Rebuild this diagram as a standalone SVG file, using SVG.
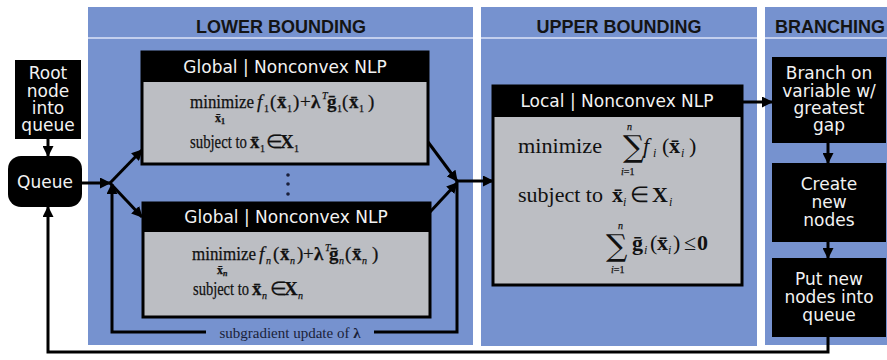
<svg xmlns="http://www.w3.org/2000/svg" width="887" height="360" viewBox="0 0 887 360">
  <style>
    .panel { fill: #7692cf; }
    .rule { stroke: #c3cfee; stroke-width: 2; }
    .head { font-family: "Liberation Sans", Arial, sans-serif; font-weight: bold; font-size: 18px; fill: #141414; }
    .blk { fill: #000; }
    .body { fill: #bcbec3; stroke: #000; stroke-width: 3; }
    .wt { font-family: "DejaVu Sans", Verdana, sans-serif; font-size: 17px; fill: #f2f2f2; text-anchor: middle; }
    .m { font-family: "Liberation Serif", "Times New Roman", serif; font-size: 19px; fill: #111; stroke: #111; stroke-width: 0.25; }
    .M { font-family: "Liberation Serif", "Times New Roman", serif; font-size: 22px; fill: #111; }
    .b { font-weight: bold; }
    .i { font-style: italic; }
    .s { font-size: 10px; }
    .S { font-size: 12px; }
    .sig { font-family: "DejaVu Serif", "Liberation Serif", serif; font-size: 30px; fill: #111; }
    .ar { fill: none; stroke: #000; stroke-width: 3; marker-end: url(#tip); }
    .lbl { font-family: "Liberation Serif", "Times New Roman", serif; font-size: 15px; fill: #1a1f3a; text-anchor: middle; }
  </style>
  <defs>
    <marker id="tip" markerUnits="userSpaceOnUse" markerWidth="11" markerHeight="11" refX="10" refY="5.5" orient="auto">
      <path d="M0,0 L11,5.5 L0,11 z" fill="#000"/>
    </marker>
  </defs>

  <rect width="887" height="360" fill="#fff"/>

  <!-- stage panels -->
  <g id="panel-lower">
    <rect class="panel" x="88" y="7" width="385" height="338"/>
    <line class="rule" x1="88" y1="38" x2="473" y2="38"/>
    <text class="head" x="281" y="33" text-anchor="middle">LOWER BOUNDING</text>
  </g>
  <g id="panel-upper">
    <rect class="panel" x="481" y="7" width="276" height="339"/>
    <line class="rule" x1="481" y1="38" x2="757" y2="38"/>
    <text class="head" x="619" y="33" text-anchor="middle">UPPER BOUNDING</text>
  </g>
  <g id="panel-branching">
    <rect class="panel" x="765" y="7" width="122" height="338"/>
    <line class="rule" x1="765" y1="38" x2="887" y2="38"/>
    <text class="head" x="775" y="33">BRANCHING</text>
  </g>

  <!-- connectors -->
  <g id="connectors">
    <line class="ar" x1="48" y1="138" x2="48" y2="156"/>
    <line class="ar" x1="81" y1="183" x2="110" y2="183"/>
    <line class="ar" x1="110" y1="183" x2="142" y2="150"/>
    <line class="ar" x1="110" y1="183" x2="142" y2="217"/>
    <line class="ar" x1="428" y1="142" x2="457" y2="181"/>
    <line class="ar" x1="430" y1="212" x2="457" y2="183"/>
    <line class="ar" x1="457" y1="181" x2="493" y2="181"/>
    <path class="ar" d="M457,181 V332 H112 V184"/>
    <rect class="panel" x="206" y="324" width="168" height="18"/>
    <text class="lbl" x="290" y="338">subgradient update of <tspan class="b">λ</tspan></text>
    <line class="ar" x1="742" y1="102" x2="772" y2="102"/>
    <line class="ar" x1="828" y1="143" x2="828" y2="163"/>
    <line class="ar" x1="828" y1="242" x2="828" y2="258"/>
    <path class="ar" d="M828,337 V352 H48 V207"/>
  </g>

  <!-- start node -->
  <g id="root">
    <rect class="blk" x="15" y="60" width="66" height="79"/>
    <text class="wt" x="48" y="79">Root</text>
    <text class="wt" x="48" y="97">node</text>
    <text class="wt" x="48" y="114">into</text>
    <text class="wt" x="48" y="131">queue</text>
  </g>

  <g id="queue">
    <rect class="blk" x="8" y="156" width="74" height="51" rx="13"/>
    <text class="wt" x="45" y="188">Queue</text>
  </g>

  <!-- first subproblem -->
  <g id="sub-1">
    <rect class="body" x="142" y="52" width="286" height="112"/>
    <rect class="blk" x="142" y="51" width="286" height="31"/>
    <text class="wt" x="285" y="73">Global | Nonconvex NLP</text>
    <text class="m" y="108"><tspan x="190" textLength="64" lengthAdjust="spacingAndGlyphs">minimize</tspan><tspan class="i" x="257">f</tspan><tspan class="s" x="264" y="112">1</tspan><tspan x="270" y="108">(</tspan><tspan class="b" x="277">x̄</tspan><tspan class="s" x="287" y="112">1</tspan><tspan x="293" y="108">)</tspan><tspan x="300">+</tspan><tspan class="b" x="311">λ</tspan><tspan class="s i" x="322" y="99">T</tspan><tspan class="b" x="327" y="108">ḡ</tspan><tspan class="s" x="337" y="112">1</tspan><tspan x="342" y="108">(</tspan><tspan class="b" x="349">x̄</tspan><tspan class="s" x="359" y="112">1</tspan><tspan x="368" y="108">)</tspan></text>
    <text class="m b" style="font-size:12px" x="215" y="122">x̄<tspan style="font-size:8px" dy="2">1</tspan></text>
    <text class="m" y="148"><tspan x="190" textLength="57" lengthAdjust="spacingAndGlyphs">subject to</tspan><tspan class="b" x="250">x̄</tspan><tspan class="s" x="260" y="152">1</tspan><tspan x="266" y="148">∈</tspan><tspan class="b" x="280">X</tspan><tspan class="s" x="294" y="152">1</tspan></text>
  </g>

  <g id="ellipsis">
    <circle cx="288" cy="175" r="1.8" fill="#1a1f3a"/>
    <circle cx="288" cy="184" r="1.8" fill="#1a1f3a"/>
    <circle cx="288" cy="194" r="1.8" fill="#1a1f3a"/>
  </g>

  <!-- n-th subproblem -->
  <g id="sub-n">
    <rect class="body" x="143" y="203" width="287" height="114"/>
    <rect class="blk" x="143" y="202" width="287" height="30"/>
    <text class="wt" x="286" y="223">Global | Nonconvex NLP</text>
    <text class="m" y="260"><tspan x="192" textLength="64" lengthAdjust="spacingAndGlyphs">minimize</tspan><tspan class="i" x="259">f</tspan><tspan class="s i" x="266" y="264">n</tspan><tspan x="273" y="260">(</tspan><tspan class="b" x="280">x̄</tspan><tspan class="s i" x="290" y="264">n</tspan><tspan x="297" y="260">)</tspan><tspan x="303">+</tspan><tspan class="b" x="314">λ</tspan><tspan class="s i" x="325" y="251">T</tspan><tspan class="b" x="329" y="260">ḡ</tspan><tspan class="s i" x="339" y="264">n</tspan><tspan x="345" y="260">(</tspan><tspan class="b" x="352">x̄</tspan><tspan class="s i" x="362" y="264">n</tspan><tspan x="372" y="260">)</tspan></text>
    <text class="m b" style="font-size:12px" x="217" y="274">x̄<tspan class="i" style="font-size:8px" dy="2">n</tspan></text>
    <text class="m" y="295"><tspan x="193" textLength="56" lengthAdjust="spacingAndGlyphs">subject to</tspan><tspan class="b" x="252">x̄</tspan><tspan class="s i" x="262" y="299">n</tspan><tspan x="270" y="295">∈</tspan><tspan class="b" x="284">X</tspan><tspan class="s i" x="298" y="299">n</tspan></text>
  </g>

  <!-- upper bounding problem -->
  <g id="local-nlp">
    <rect class="body" x="493" y="86" width="249" height="199"/>
    <rect class="blk" x="493" y="85" width="249" height="32"/>
    <text class="wt" x="617" y="107">Local | Nonconvex NLP</text>
    <text class="M" x="518" y="153" textLength="84" lengthAdjust="spacingAndGlyphs">minimize</text>
    <text class="sig" x="623" y="157">∑</text>
    <text class="m s i" x="627" y="130">n</text>
    <text class="m s" x="621" y="175"><tspan class="i">i</tspan>=1</text>
    <text class="M" y="153"><tspan class="i" x="643">f</tspan><tspan class="S i" x="653" y="157">i</tspan><tspan x="662" y="153">(</tspan><tspan class="b" x="669">x̄</tspan><tspan class="S i" x="681" y="157">i</tspan><tspan x="689" y="153">)</tspan></text>
    <text class="M" y="202"><tspan x="518" textLength="85" lengthAdjust="spacingAndGlyphs">subject to</tspan><tspan class="b" x="612">x̄</tspan><tspan class="S i" x="623" y="206">i</tspan><tspan x="630" y="202">∈</tspan><tspan class="b" x="652">X</tspan><tspan class="S i" x="669" y="206">i</tspan></text>
    <text class="sig" x="606" y="256">∑</text>
    <text class="m s i" x="618" y="229">n</text>
    <text class="m s" x="611" y="273"><tspan class="i">i</tspan>=1</text>
    <text class="M" y="250"><tspan class="b" x="632">ḡ</tspan><tspan class="S i" x="644" y="254">i</tspan><tspan x="650" y="250">(</tspan><tspan class="b" x="657">x̄</tspan><tspan class="S i" x="668" y="254">i</tspan><tspan x="673" y="250">)</tspan><tspan x="684">≤</tspan><tspan class="b" x="697">0</tspan></text>
  </g>

  <!-- branching steps -->
  <g id="branch">
    <rect class="blk" x="772" y="57" width="114" height="86"/>
    <text class="wt" x="829" y="79">Branch on</text>
    <text class="wt" x="829" y="97">variable w/</text>
    <text class="wt" x="829" y="114">greatest</text>
    <text class="wt" x="829" y="131">gap</text>
  </g>
  <g id="create">
    <rect class="blk" x="772" y="163" width="114" height="79"/>
    <text class="wt" x="829" y="190">Create</text>
    <text class="wt" x="829" y="208">new</text>
    <text class="wt" x="829" y="226">nodes</text>
  </g>
  <g id="enqueue">
    <rect class="blk" x="772" y="258" width="114" height="79"/>
    <text class="wt" x="829" y="285">Put new</text>
    <text class="wt" x="829" y="303">nodes into</text>
    <text class="wt" x="829" y="321">queue</text>
  </g>
</svg>
